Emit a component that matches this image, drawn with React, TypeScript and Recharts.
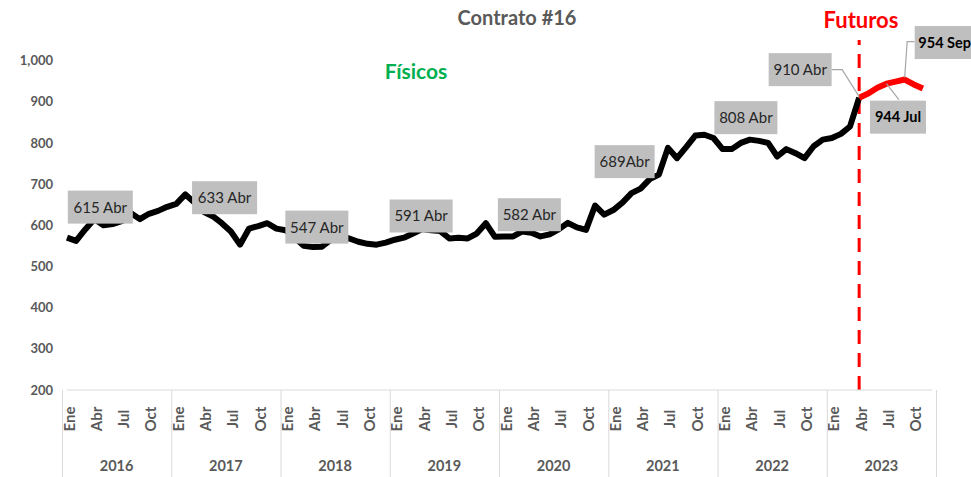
import { LineChart, Line, XAxis, YAxis, ReferenceLine, LabelList } from "recharts";

const YEARS = [2016, 2017, 2018, 2019, 2020, 2021, 2022, 2023];
const MONTHS = ["Ene", "Feb", "Mar", "Abr", "May", "Jun", "Jul", "Ago", "Sep", "Oct", "Nov", "Dic"];

// precios físicos, Ene 2016 – Abr 2023
const FIS_2016 = [570, 562, 590, 615, 600, 603, 610, 630, 615, 628, 635, 645];
const FIS_2017 = [652, 675, 655, 633, 622, 605, 585, 553, 592, 598, 605, 592];
const FIS_2018 = [588, 570, 550, 547, 548, 565, 573, 568, 560, 555, 553, 558];
const FIS_2019 = [565, 570, 580, 591, 588, 586, 568, 570, 568, 580, 605, 572];
const FIS_2020 = [573, 573, 585, 582, 573, 578, 590, 606, 595, 589, 648, 626];
const FIS_2021 = [637, 655, 678, 689, 712, 723, 788, 763, 790, 818, 820, 812];
const FIS_2022 = [785, 785, 800, 808, 805, 800, 767, 785, 775, 763, 792, 808];
const FIS_2023 = [812, 822, 840, 910];
const FISICOS = [...FIS_2016, ...FIS_2017, ...FIS_2018, ...FIS_2019, ...FIS_2020, ...FIS_2021, ...FIS_2022, ...FIS_2023];

// futuros, Abr – Nov 2023
const FUTUROS_FROM = "2023-Abr";
const FUTUROS = [910, 920, 934, 944, 949, 954, 942, 932];

const Y_TICKS = [200, 300, 400, 500, 600, 700, 800, 900, 1000];

const FIS_LABELS = ["2016-Abr", "2017-Abr", "2018-Abr", "2019-Abr", "2020-Abr", "2021-Abr", "2022-Abr", "2023-Abr"];
const FUT_LABELS = ["2023-Jul", "2023-Sep"];

const keys = YEARS.flatMap((y) => MONTHS.map((m) => `${y}-${m}`));
const futStart = keys.indexOf(FUTUROS_FROM);
const data = keys.map((key, i) => ({
  key,
  year: YEARS[Math.floor(i / 12)],
  month: MONTHS[i % 12],
  mi: i % 12,
  fisicos: i < FISICOS.length ? FISICOS[i] : null,
  futuros: i >= futStart && i - futStart < FUTUROS.length ? FUTUROS[i - futStart] : null,
}));

// layout
const W = 971;
const H = 477;
const M = { top: 40, right: 39, bottom: 0, left: 7 };
const Y_W = 60;
const X_H = 87;
const PLOT_W = W - M.left - M.right - Y_W;
const BAND = PLOT_W / data.length;
const AXIS_Y = H - M.bottom - X_H;
const GRID = "#d9d9d9";
const TXT = "#595959";
const FONT = "Lato, 'Open Sans', sans-serif";

// label box placement relative to the point
const LABEL_POS: Record<string, { cx: number; cy: number; w: number; bold?: boolean; leader?: number[][] }> = {
  "2016-Abr": { cx: 6, cy: -12, w: 65 },
  "2017-Abr": { cx: 21, cy: -14, w: 65 },
  "2018-Abr": { cx: 4, cy: -20, w: 63 },
  "2019-Abr": { cx: -1, cy: -13, w: 63 },
  "2020-Abr": { cx: -2, cy: -18, w: 63 },
  "2021-Abr": { cx: -16, cy: -27, w: 60 },
  "2022-Abr": { cx: -4, cy: -22, w: 63 },
  "2023-Abr": { cx: -59, cy: -28, w: 63, leader: [[0, -1], [-17, -28], [-27.5, -28]] },
  "2023-Jul": { cx: 11.5, cy: 33.5, w: 56, bold: true, leader: [[0, 0], [12.4, 16]] },
  "2023-Sep": { cx: 40, cy: -37, w: 60, bold: true, leader: [[0, -2], [2.5, -38], [10, -38]] },
};

function makeLabel(list: string[]) {
  return (p: any) => {
    const row = data[p.index];
    if (!row || !list.includes(row.key) || p.value == null) return null;
    const pos = LABEL_POS[row.key];
    const x = Number(p.x);
    const y = Number(p.y);
    const h = 33;
    const text = row.key === "2021-Abr" ? `${p.value}${row.month}` : `${p.value} ${row.month}`;
    return (
      <g>
        {pos.leader && (
          <polyline
            points={pos.leader.map(([a, b]) => `${x + a},${y + b}`).join(" ")}
            fill="none"
            stroke="#a6a6a6"
            strokeWidth={1.2}
          />
        )}
        <rect x={x + pos.cx - pos.w / 2} y={y + pos.cy - h / 2} width={pos.w} height={h} fill="#bfbfbf" />
        <text
          x={x + pos.cx}
          y={y + pos.cy}
          dy="0.36em"
          textAnchor="middle"
          fontFamily={FONT}
          fontSize={pos.bold ? 14.5 : 15}
          fontWeight={pos.bold ? 700 : 400}
          fill={pos.bold ? "#000" : "#262626"}
        >
          {text}
        </text>
      </g>
    );
  };
}

function MonthTick(props: any) {
  const { x, index } = props;
  const row = data[index];
  if (!row) return null;
  const ty = 419;
  return (
    <g>
      {row.mi % 3 === 0 && (
        <text
          x={x}
          y={ty}
          dy="0.5em"
          transform={`rotate(-90, ${x}, ${ty})`}
          textAnchor="middle"
          fontFamily={FONT}
          fontSize={15}
          fontWeight={700}
          fill={TXT}
        >
          {row.month}
        </text>
      )}
      {row.mi === 0 && (
        <>
          <line x1={x - BAND / 2} x2={x - BAND / 2} y1={AXIS_Y} y2={H} stroke={GRID} />
          <text
            x={x - BAND / 2 + 6 * BAND}
            y={471}
            textAnchor="middle"
            fontFamily={FONT}
            fontSize={14.5}
            fontWeight={700}
            fill={TXT}
          >
            {row.year}
          </text>
        </>
      )}
      {index === data.length - 1 && (
        <line x1={x + BAND / 2} x2={x + BAND / 2} y1={AXIS_Y} y2={H} stroke={GRID} />
      )}
    </g>
  );
}

export default function App() {
  return (
    <div style={{ position: "absolute", left: 0, top: 0, width: W, height: H, background: "#fff", fontFamily: FONT }}>
      <LineChart width={W} height={H} data={data} margin={M}>
        <XAxis
          dataKey="key"
          height={X_H}
          interval={0}
          tickLine={false}
          axisLine={{ stroke: GRID }}
          tick={<MonthTick />}
        />
        <YAxis
          width={Y_W}
          domain={[200, 1050]}
          ticks={Y_TICKS}
          allowDataOverflow
          axisLine={false}
          tickLine={false}
          tickSize={0}
          tickMargin={14}
          tickFormatter={(v: number) => v.toLocaleString("en-US")}
          tick={{ fontFamily: FONT, fontSize: 13, fontWeight: 700, fill: TXT }}
        />
        <ReferenceLine x={FUTUROS_FROM} stroke="#ff0000" strokeWidth={3} strokeDasharray="14 9" />
        <Line
          dataKey="fisicos"
          stroke="#000"
          strokeWidth={6}
          strokeLinejoin="round"
          dot={false}
          activeDot={false}
          connectNulls={false}
          isAnimationActive={false}
        >
          <LabelList dataKey="fisicos" content={makeLabel(FIS_LABELS)} />
        </Line>
        <Line
          dataKey="futuros"
          stroke="#ff0000"
          strokeWidth={6}
          strokeLinejoin="round"
          dot={false}
          activeDot={false}
          isAnimationActive={false}
        >
          <LabelList dataKey="futuros" content={makeLabel(FUT_LABELS)} />
        </Line>
      </LineChart>
      <div style={{ position: "absolute", left: 417, top: 5, width: 200, textAlign: "center", fontSize: 20, fontWeight: 700, color: TXT }}>
        Contrato #16
      </div>
      <div style={{ position: "absolute", left: 316, top: 58, width: 200, textAlign: "center", fontSize: 21, fontWeight: 700, color: "#00b050" }}>
        Físicos
      </div>
      <div style={{ position: "absolute", left: 761, top: 6, width: 200, textAlign: "center", fontSize: 22, fontWeight: 700, color: "#ff0000" }}>
        Futuros
      </div>
    </div>
  );
}
